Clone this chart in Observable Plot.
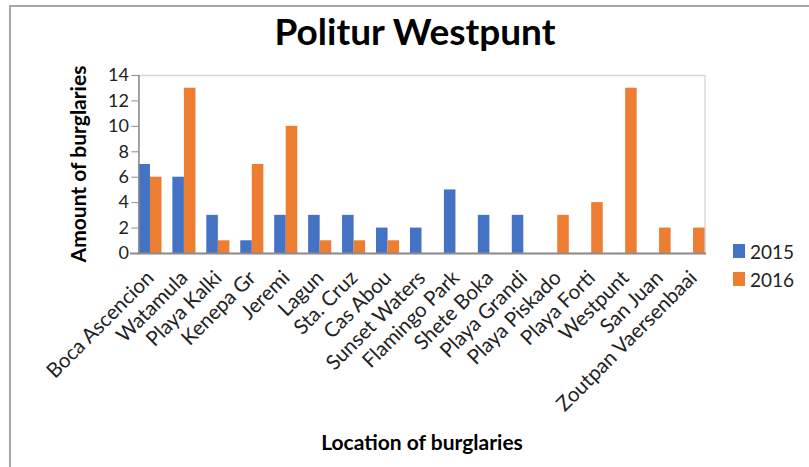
<!DOCTYPE html>
<html>
<head>
<meta charset="utf-8">
<script src="https://cdn.jsdelivr.net/npm/d3@7"></script>
<script src="https://cdn.jsdelivr.net/npm/@observablehq/plot@0.6"></script>
<style>
  html, body { margin: 0; padding: 0; background: #fff; }
  #wrap { position: relative; width: 809px; height: 467px; overflow: hidden; font-family: Lato, sans-serif; }
  #border { position: absolute; left: 9px; top: 5px; width: 820px; height: 480px; border-left: 2px solid #a6a6a6; border-top: 2px solid #a6a6a6; }
  #title { position: absolute; left: 0; width: 830px; top: 9px; text-align: center; font-size: 37px; font-weight: bold; color: #000; line-height: 44px; }
  #ytitle { position: absolute; left: 77px; top: 164px; transform: translate(-50%, -50%) rotate(-90deg); font-size: 21px; font-weight: bold; white-space: nowrap; color: #000; }
  #xtitle { position: absolute; left: 422px; top: 441px; transform: translate(-50%, -50%); font-size: 21px; font-weight: bold; white-space: nowrap; color: #000; }
  #legend { position: absolute; left: 733px; top: 237px; font-size: 19px; color: #222; }
  .item { display: flex; align-items: center; height: 28px; }
  .sw { width: 12px; height: 14px; margin-right: 5px; }
  #chart { position: absolute; left: 0; top: 0; }
</style>
</head>
<body>
<div id="wrap">
  <div id="border"></div>
  <div id="chart"></div>
  <div id="title">Politur Westpunt</div>
  <div id="ytitle">Amount of burglaries</div>
  <div id="xtitle">Location of burglaries</div>
  <div id="legend"></div>
</div>
<script>
const locations = ["Boca Ascencion", "Watamula", "Playa Kalki", "Kenepa Gr", "Jeremi", "Lagun", "Sta. Cruz", "Cas Abou", "Sunset Waters", "Flamingo Park", "Shete Boka", "Playa Grandi", "Playa Piskado", "Playa Forti", "Westpunt", "San Juan", "Zoutpan Vaersenbaai"];
const values2015 = [7, 6, 3, 1, 3, 3, 3, 2, 2, 5, 3, 3, 0, 0, 0, 0, 0];
const values2016 = [6, 13, 1, 7, 10, 1, 1, 1, 0, 0, 0, 0, 3, 4, 13, 2, 2];
const years = ["2015", "2016"];
const colors = ["#4472C4", "#ED7D31"];
const yTicks = [0, 2, 4, 6, 8, 10, 12, 14];

const legend = document.getElementById("legend");
years.forEach((y, i) => {
  const d = document.createElement("div");
  d.className = "item";
  d.innerHTML = `<span class="sw" style="background:${colors[i]}"></span><span>${y}</span>`;
  legend.appendChild(d);
});

const data = [];
locations.forEach((loc, i) => {
  data.push({location: loc, year: "2015", value: values2015[i]});
  data.push({location: loc, year: "2016", value: values2016[i]});
});

const chart = Plot.plot({
  width: 809,
  height: 467,
  marginLeft: 133,
  marginRight: 99,
  marginTop: 75,
  marginBottom: 214,
  style: {fontFamily: "Lato", fontSize: "17px", color: "#222", background: "transparent", overflow: "visible"},
  fx: {domain: locations, paddingInner: 0.32, paddingOuter: 0.16, round: false, label: null},
  x: {domain: years, padding: 0, round: false, axis: null},
  y: {domain: [0, 14], label: null},
  color: {domain: years, range: colors},
  marks: [
    Plot.frame({facet: "super", stroke: "#d9d9d9", strokeWidth: 1.5}),
    Plot.barY(data, {fx: "location", x: "year", y: "value", fill: "year"}),
    Plot.axisY({ticks: yTicks, tickSize: 7, tickPadding: 3, fontSize: 18, stroke: "#8c8c8c", label: null}),
    Plot.axisFx({anchor: "bottom", tickRotate: -45, tickSize: 0, tickPadding: 21, fontSize: 20.5, label: null}),
    Plot.frame({facet: "super", anchor: "left", stroke: "#8c8c8c", strokeWidth: 1.5}),
    Plot.frame({facet: "super", anchor: "bottom", stroke: "#8c8c8c", strokeWidth: 2, insetLeft: -8})
  ]
});
document.getElementById("chart").appendChild(chart);
</script>
</body>
</html>
